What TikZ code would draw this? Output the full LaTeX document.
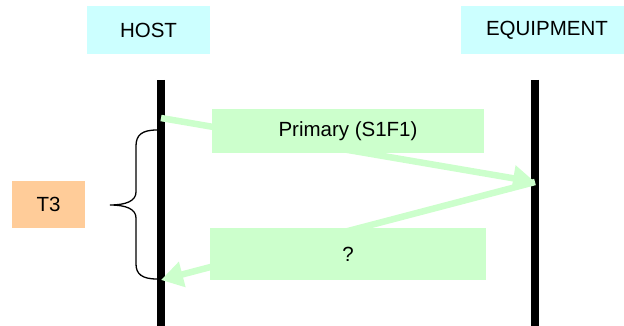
\documentclass[tikz,border=0pt]{standalone}
\usepackage{fontspec}
\setmainfont{Liberation Sans}
\usetikzlibrary{arrows.meta}
\definecolor{boxcyan}{HTML}{CCFFFF}
\definecolor{boxgreen}{HTML}{CCFFCC}
\definecolor{boxorange}{HTML}{FFCC99}
\tikzset{
  lbl/.style={inner sep=0pt, font=\fontsize{20.5}{24}\selectfont, text=black},
  actorbox/.style={lbl, fill=boxcyan, minimum height=48pt},
  msgbox/.style={lbl, fill=boxgreen},
  timebox/.style={lbl, fill=boxorange, minimum width=73pt, minimum height=47pt},
  lifeline/.style={line width=8pt, black},
  msgarrow/.style={line width=6.5pt, boxgreen, -{Triangle[length=22pt,width=25pt]}},
  bracestyle/.style={line width=1.3pt, black}
}
\begin{document}
\begin{tikzpicture}[x=1pt,y=-1pt]
\useasboundingbox (0,0) rectangle (624,326);
% actors
\node[actorbox, minimum width=123pt] (host) at (148.5,30) {HOST};
\node[actorbox, minimum width=172pt] (equip) at (547,30) {EQUIPMENT};
% lifelines
\coordinate (hostTop) at (161,80);
\coordinate (hostBot) at (161,330);
\coordinate (equipTop) at (535,80);
\coordinate (equipBot) at (535,330);
\draw[lifeline] (hostTop) -- (hostBot);
\draw[lifeline] (equipTop) -- (equipBot);
% message anchor points
\coordinate (h1) at (161,118);
\coordinate (e1) at (535,182);
\coordinate (h2) at (161,280);
\draw[msgarrow] (h1) -- (e1);
\draw[msgarrow] (e1) -- (h2);
% message boxes
\node[msgbox, minimum width=272pt, minimum height=44pt] (primary) at (348,131) {Primary (S1F1)};
\node[msgbox, minimum width=276pt, minimum height=52pt] (reply) at (348,254) {?};
% brace
\coordinate (bTop) at (157,130);
\coordinate (bBot) at (157,279);
\coordinate (bTip) at (110,205);
\draw[bracestyle] (bTop) .. controls (142,130) and (136,135) .. (136,146)
  -- (136,192) .. controls (136,201) and (126,205) .. (bTip)
  .. controls (126,205) and (136,209) .. (136,218)
  -- (136,264) .. controls (136,274) and (142,279) .. (bBot);
% T3
\node[timebox] (t3) at (48.5,204.5) {T3};
\end{tikzpicture}
\end{document}
